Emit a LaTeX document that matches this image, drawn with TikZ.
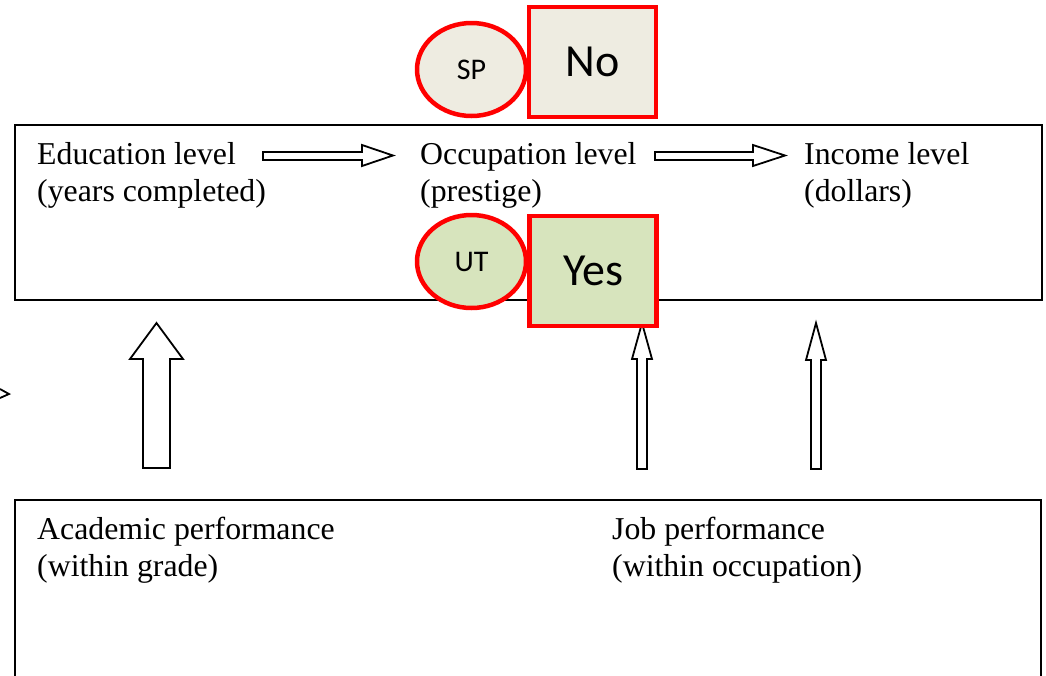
\documentclass[tikz,border=0pt]{standalone}
\usepackage{fontspec}
\setmainfont{Liberation Serif}
\newfontfamily\calibri{Carlito}
\usetikzlibrary{shapes.geometric}
\definecolor{beige}{HTML}{EEECE1}
\definecolor{olive}{HTML}{D7E4BD}
\definecolor{brightred}{HTML}{FF0000}
\tikzset{
  lbl/.style={anchor=base west, inner sep=0pt, font=\fontsize{31.8}{37}\selectfont},
  frame/.style={draw=black, line width=1.8pt},
  blockarrow/.style={draw=black, fill=white, line width=1.8pt, line join=miter},
  tag/.style={ellipse, draw=brightred, line width=4.5pt, minimum width=109pt,
              minimum height=93pt, inner sep=0pt,
              font=\calibri\fontsize{30}{35}\selectfont},
  verdict/.style={rectangle, draw=brightred, line width=4.5pt, minimum width=127pt,
                  minimum height=110pt, inner sep=0pt,
                  font=\calibri\fontsize{46}{52}\selectfont},
}
\begin{document}
\begin{tikzpicture}[x=1pt, y=-1pt]
\useasboundingbox (0,0) rectangle (1046,675);
\clip (0,0) rectangle (1046,675);

% outer frames
\draw[frame] (15,125) rectangle (1042,300);
\draw[frame] (15,500) rectangle (1041,700);

% stray arrow tip at the left edge
\draw[line width=1.8pt] (0,389) -- (9,394) -- (0,398);

% horizontal block arrows
\draw[blockarrow] (263,152) -- (362,152) -- (362,145) -- (393,155.5) -- (362,166)
  -- (362,160) -- (263,160) -- cycle;
\draw[blockarrow] (655,152) -- (753,152) -- (753,145) -- (785,155.5) -- (753,166)
  -- (753,160) -- (655,160) -- cycle;

% vertical block arrows
\draw[blockarrow] (143,468) -- (143,359) -- (130,359) -- (156.5,323) -- (183,359)
  -- (170,359) -- (170,468) -- cycle;
\draw[blockarrow] (637,469) -- (637,359) -- (632,359) -- (642,323) -- (652,359)
  -- (647,359) -- (647,469) -- cycle;
\draw[blockarrow] (811,469) -- (811,360) -- (806,360) -- (816,323) -- (826,360)
  -- (821,360) -- (821,469) -- cycle;

% labels in the upper frame
\node[lbl] (edu1) at (37,164.5) {Education level};
\node[lbl] (edu2) at (37,201.5) {(years completed)};
\node[lbl] (occ1) at (420,164.5) {Occupation level};
\node[lbl] (occ2) at (420,201.5) {(prestige)};
\node[lbl] (inc1) at (804,164.5) {Income level};
\node[lbl] (inc2) at (804,201.5) {(dollars)};

% labels in the lower frame
\node[lbl] (acad1) at (37,539.5) {Academic performance};
\node[lbl] (acad2) at (37,576.5) {(within grade)};
\node[lbl] (job1) at (612,539.5) {Job performance};
\node[lbl] (job2) at (612,576.5) {(within occupation)};

% SP / No marker
\node[tag, fill=beige] (sp) at (471.5,69.5) {SP};
\node[verdict, fill=beige] (no) at (592.5,62) {No};

% UT / Yes marker
\node[tag, fill=olive] (ut) at (471.5,261.5) {UT};
\node[verdict, fill=olive] (yes) at (593,271) {Yes};
\end{tikzpicture}
\end{document}
